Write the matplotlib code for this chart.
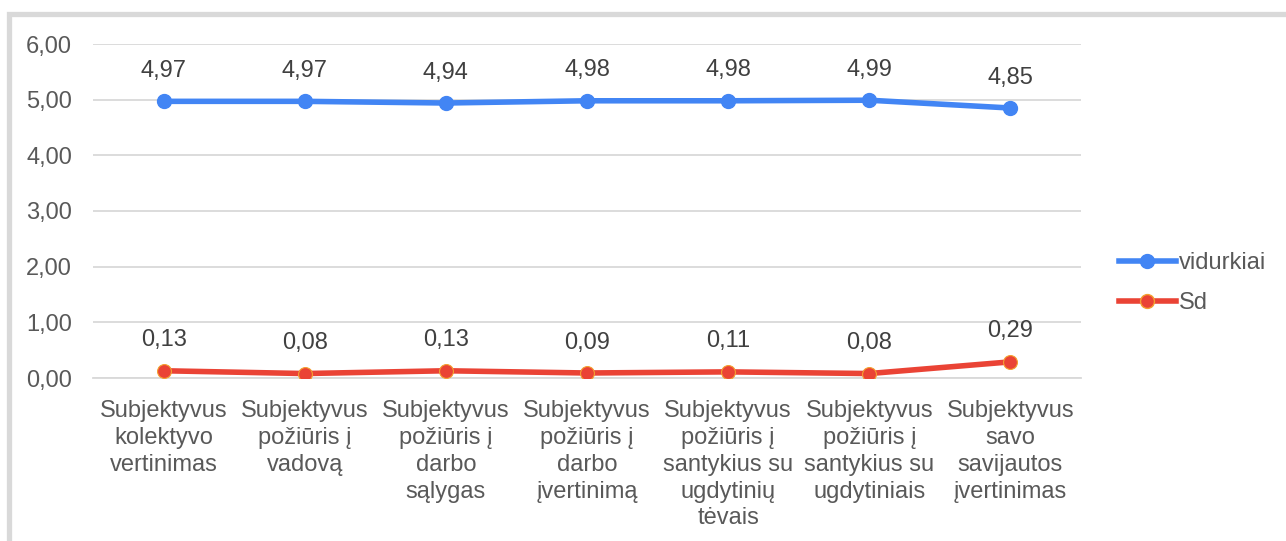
import matplotlib
matplotlib.use("Agg")
import matplotlib.pyplot as plt
from matplotlib.patches import Rectangle
from matplotlib.lines import Line2D

categories = [
    "Subjektyvus\nkolektyvo\nvertinimas",
    "Subjektyvus\npožiūris į\nvadovą",
    "Subjektyvus\npožiūris į\ndarbo\nsąlygas",
    "Subjektyvus\npožiūris į\ndarbo\nįvertinimą",
    "Subjektyvus\npožiūris į\nsantykius su\nugdytinių\ntėvais",
    "Subjektyvus\npožiūris į\nsantykius su\nugdytiniais",
    "Subjektyvus\nsavo\nsavijautos\nįvertinimas",
]
vidurkiai = [4.97, 4.97, 4.94, 4.98, 4.98, 4.99, 4.85]
sd = [0.13, 0.08, 0.13, 0.09, 0.11, 0.08, 0.29]
yticks = [0, 1, 2, 3, 4, 5, 6]

plt.rcParams['font.family'] = ['Liberation Sans', 'DejaVu Sans']
W, H = 1286, 541
fs = 17
fig = plt.figure(figsize=(W / 100, H / 100), dpi=100)
# outer frame
fig.patches.append(Rectangle((9 / W, -0.1), 1.2, (H - 14) / H + 0.1, transform=fig.transFigure,
                             fill=False, edgecolor="#d9d9d9", linewidth=3.8, zorder=0))

ax = fig.add_axes([93 / W, 1 - 378 / H, (1081 - 93) / W, (378 - 44) / H])
text_col = "#595959"
blue = "#4285F4"
red = "#EA4335"
x = list(range(len(categories)))

ax.plot(x, vidurkiai, color=blue, lw=4, marker="o", ms=10, mfc=blue, mec=blue, zorder=3,
        solid_capstyle="round", label="vidurkiai")
ax.plot(x, sd, color=red, lw=4, marker="o", ms=10, mfc=red, mec="#F4A030", mew=0.8, zorder=3,
        solid_capstyle="round", label="Sd")

for xi, v in zip(x, vidurkiai):
    ax.annotate(f"{v:.2f}".replace(".", ","), (xi, v), xytext=(0, 14), textcoords="offset points",
                ha="center", va="bottom", fontsize=fs, color="#404040")
for xi, v in zip(x, sd):
    ax.annotate(f"{v:.2f}".replace(".", ","), (xi, v), xytext=(0, 14), textcoords="offset points",
                ha="center", va="bottom", fontsize=fs, color="#404040")

ax.set_xlim(-0.5, len(categories) - 0.5)
ax.set_ylim(0, 6)
ax.set_yticks(yticks)
ax.set_yticklabels([f"{t:.2f}".replace(".", ",") for t in yticks], fontsize=fs, color=text_col)
ax.set_xticks(x)
ax.set_xticklabels(categories, fontsize=fs, color=text_col, linespacing=1.28)
ax.tick_params(axis="x", length=0, pad=16)
ax.tick_params(axis="y", length=0, pad=15)
ax.grid(axis="y", color="#d9d9d9", lw=1.3)
ax.set_axisbelow(True)
for s in ["top", "right", "left"]:
    ax.spines[s].set_visible(False)
ax.spines["bottom"].set_color("#d9d9d9")
ax.spines["bottom"].set_linewidth(1.3)

handles = [
    Line2D([], [], color=blue, lw=4, marker="o", ms=10, mfc=blue, mec=blue),
    Line2D([], [], color=red, lw=4, marker="o", ms=10, mfc=red, mec="#F4A030"),
]
fig.legend(handles, ["vidurkiai", "Sd"], loc="center left", bbox_to_anchor=(1119 / W, 1 - 283 / H),
           frameon=False, fontsize=fs, labelcolor=text_col, handlelength=2.4, handletextpad=0.15,
           labelspacing=0.75, borderaxespad=0, borderpad=0)

fig.savefig("out.png", dpi=100)
